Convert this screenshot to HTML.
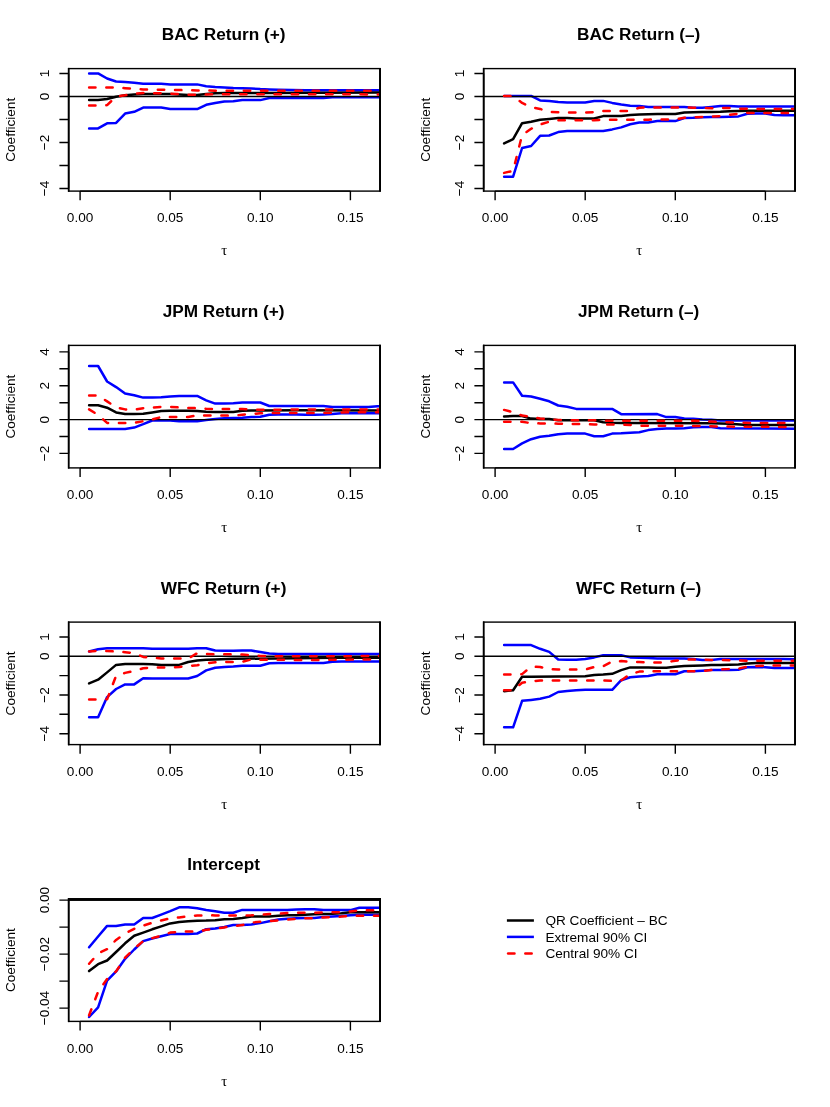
<!DOCTYPE html>
<html><head><meta charset="utf-8"><title>QR Coefficients</title>
<style>
html,body{margin:0;padding:0;background:#fff;}
body{width:830px;height:1107px;overflow:hidden;}
svg{display:block;will-change:transform;}
text{font-family:"Liberation Sans",sans-serif;fill:#000;}
.t{font-weight:bold;font-size:17.2px;text-anchor:middle;}
.a{font-size:13.6px;text-anchor:middle;}
.tau{font-family:"Liberation Serif",serif;font-size:15px;text-anchor:middle;}
.ax{stroke:#000;stroke-width:1.4;fill:none;stroke-linecap:square;}
.k{stroke:#000;stroke-width:2.5;fill:none;stroke-linejoin:round;stroke-linecap:round;}
.b{stroke:#0000ff;stroke-width:2.5;fill:none;stroke-linejoin:round;stroke-linecap:round;}
.r{stroke:#ff0000;stroke-width:2.5;fill:none;stroke-linejoin:round;stroke-linecap:round;stroke-dasharray:6.4 10.8;}
.l{font-size:13.6px;}
</style></head><body>
<svg width="830" height="1107" viewBox="0 0 830 1107">
<rect width="830" height="1107" fill="#fff"/>
<defs>
<clipPath id="c00"><rect x="68.6" y="68.6" width="311.4" height="122.5"/></clipPath>
<clipPath id="c01"><rect x="483.6" y="68.6" width="311.4" height="122.5"/></clipPath>
<clipPath id="c10"><rect x="68.6" y="345.4" width="311.4" height="122.5"/></clipPath>
<clipPath id="c11"><rect x="483.6" y="345.4" width="311.4" height="122.5"/></clipPath>
<clipPath id="c20"><rect x="68.6" y="622.1" width="311.4" height="122.5"/></clipPath>
<clipPath id="c21"><rect x="483.6" y="622.1" width="311.4" height="122.5"/></clipPath>
<clipPath id="c30"><rect x="68.6" y="898.9" width="311.4" height="122.5"/></clipPath>
</defs>
<g><!-- panel 0,0 -->
<text class="t" x="223.6" y="40.1">BAC Return (+)</text>
<g clip-path="url(#c00)">
<path class="b" d="M89.1 73.4 L98.1 73.4 L107.1 78.5 L116.1 81.5 L125.1 82.1 L134.2 82.7 L143.2 83.7 L161.2 83.7 L170.2 84.4 L197.2 84.4 L206.2 86.3 L215.2 87.0 L224.3 87.5 L233.3 88.1 L242.3 88.3 L251.3 88.5 L260.3 89.1 L269.3 89.5 L278.3 89.8 L305.4 90.2 L386.4 90.3"/>
<path class="b" d="M89.1 128.4 L98.1 128.4 L107.1 123.3 L116.1 122.9 L125.1 113.6 L134.2 111.8 L143.2 107.6 L161.2 107.6 L170.2 109.1 L197.2 109.1 L206.2 104.8 L215.2 103.0 L224.3 101.5 L233.3 101.2 L242.3 100.1 L260.3 100.1 L269.3 98.0 L323.4 98.0 L332.4 97.3 L386.4 97.3"/>
<path class="k" d="M89.1 99.9 L98.1 99.9 L107.1 99.0 L116.1 96.7 L125.1 95.3 L134.2 94.5 L143.2 94.0 L170.2 94.0 L179.2 94.5 L188.2 95.0 L197.2 95.0 L206.2 94.0 L215.2 93.3 L224.3 93.1 L260.3 92.9 L386.4 92.4"/>
<path class="ax" style="stroke-linecap:butt" d="M68.6 96.5 H380.0"/>
<path class="r" d="M89.1 87.4 L116.1 87.4 L125.1 88.2 L134.2 88.9 L143.2 89.4 L161.2 89.7 L170.2 89.9 L197.2 90.4 L215.2 90.7 L260.3 90.8 L386.4 90.6"/>
<path class="r" d="M89.1 105.4 L98.1 105.4 L107.1 105.1 L116.1 96.5 L125.1 95.3 L134.2 93.6 L143.2 93.1 L161.2 93.3 L170.2 93.6 L179.2 94.1 L188.2 94.8 L197.2 94.8 L206.2 94.5 L215.2 94.1 L224.3 94.2 L386.4 94.4"/>
</g>
<rect class="ax" x="68.6" y="68.6" width="311.4" height="122.5"/>
<path class="ax" style="stroke-width:1.9;stroke-linecap:butt" d="M380.05 67.9 V191.8"/>
<path class="ax" style="stroke-width:1.6;stroke-linecap:butt" d="M68.70 67.9 V191.8"/>
<path class="ax" style="stroke-linecap:butt" d="M80.1 191.1 H350.4M80.1 191.1 v9.1M170.2 191.1 v9.1M260.3 191.1 v9.1M350.4 191.1 v9.1M68.6 73.5 V188.5M68.6 73.5 h-9.2M68.6 96.5 h-9.2M68.6 119.5 h-9.2M68.6 142.5 h-9.2M68.6 165.5 h-9.2M68.6 188.5 h-9.2"/>
<text class="a" x="80.1" y="222.3">0.00</text>
<text class="a" x="170.2" y="222.3">0.05</text>
<text class="a" x="260.3" y="222.3">0.10</text>
<text class="a" x="350.4" y="222.3">0.15</text>
<text class="a" transform="translate(48.6 73.5) rotate(-90)">1</text>
<text class="a" transform="translate(48.6 96.5) rotate(-90)">0</text>
<text class="a" transform="translate(48.6 142.5) rotate(-90)">−2</text>
<text class="a" transform="translate(48.6 188.5) rotate(-90)">−4</text>
<text class="a" transform="translate(15.3 129.8) rotate(-90)">Coefficient</text>
<text class="tau" x="224.3" y="255.2">τ</text>
</g>
<g><!-- panel 0,1 -->
<text class="t" x="638.6" y="40.1">BAC Return (<tspan dy="0.7">–</tspan><tspan dy="-0.7">)</tspan></text>
<g clip-path="url(#c01)">
<path class="b" d="M504.1 95.9 L531.1 95.9 L540.1 100.4 L549.2 100.9 L558.2 102.1 L567.2 102.4 L585.2 102.4 L594.2 100.9 L603.2 100.9 L612.2 102.9 L621.2 104.6 L630.2 105.8 L639.3 105.9 L648.3 107.0 L684.3 107.0 L693.3 107.7 L702.3 107.7 L711.3 107.0 L720.4 106.1 L729.4 106.1 L738.4 106.6 L801.4 106.6"/>
<path class="b" d="M504.1 176.7 L513.1 176.7 L522.1 148.0 L531.1 146.0 L540.1 135.8 L549.2 135.5 L558.2 132.1 L567.2 131.1 L603.2 131.1 L612.2 129.4 L621.2 127.4 L630.2 124.3 L639.3 122.6 L648.3 122.4 L657.3 121.1 L666.3 120.7 L675.3 121.1 L684.3 118.0 L693.3 117.7 L702.3 117.2 L711.3 117.0 L720.4 116.9 L729.4 116.7 L738.4 116.4 L747.4 113.7 L756.4 113.5 L765.4 113.5 L774.4 115.1 L783.4 115.3 L801.4 115.3"/>
<path class="k" d="M504.1 143.4 L513.1 139.2 L522.1 123.2 L531.1 121.8 L540.1 119.8 L549.2 119.0 L558.2 118.1 L567.2 118.1 L576.2 118.5 L594.2 118.5 L603.2 116.1 L612.2 116.1 L621.2 115.9 L630.2 115.0 L639.3 114.4 L648.3 114.2 L657.3 114.0 L675.3 114.0 L684.3 112.4 L693.3 112.2 L702.3 112.0 L711.3 111.9 L720.4 111.8 L729.4 111.3 L738.4 111.0 L747.4 110.8 L801.4 110.7"/>
<path class="ax" style="stroke-linecap:butt" d="M483.6 96.5 H795.0"/>
<path class="r" d="M504.1 95.9 L513.1 96.2 L522.1 102.9 L531.1 107.2 L540.1 108.9 L549.2 111.9 L558.2 112.2 L567.2 112.6 L585.2 112.6 L594.2 112.2 L603.2 111.0 L630.2 111.0 L639.3 107.7 L648.3 107.4 L684.3 107.4 L693.3 107.7 L711.3 108.2 L729.4 108.0 L738.4 108.6 L747.4 108.8 L756.4 109.0 L801.4 109.0"/>
<path class="r" d="M504.1 172.9 L513.1 170.9 L522.1 135.0 L531.1 128.8 L540.1 124.5 L549.2 121.7 L558.2 120.2 L567.2 120.3 L594.2 120.3 L603.2 119.8 L648.3 119.7 L657.3 119.4 L675.3 119.4 L684.3 117.7 L693.3 117.3 L702.3 116.9 L711.3 116.7 L720.4 116.1 L729.4 114.8 L738.4 113.7 L747.4 112.9 L756.4 112.9 L765.4 113.1 L801.4 113.1"/>
</g>
<rect class="ax" x="483.6" y="68.6" width="311.4" height="122.5"/>
<path class="ax" style="stroke-width:1.9;stroke-linecap:butt" d="M795.05 67.9 V191.8"/>
<path class="ax" style="stroke-width:1.6;stroke-linecap:butt" d="M483.70 67.9 V191.8"/>
<path class="ax" style="stroke-linecap:butt" d="M495.1 191.1 H765.4M495.1 191.1 v9.1M585.2 191.1 v9.1M675.3 191.1 v9.1M765.4 191.1 v9.1M483.6 73.5 V188.5M483.6 73.5 h-9.2M483.6 96.5 h-9.2M483.6 119.5 h-9.2M483.6 142.5 h-9.2M483.6 165.5 h-9.2M483.6 188.5 h-9.2"/>
<text class="a" x="495.1" y="222.3">0.00</text>
<text class="a" x="585.2" y="222.3">0.05</text>
<text class="a" x="675.3" y="222.3">0.10</text>
<text class="a" x="765.4" y="222.3">0.15</text>
<text class="a" transform="translate(463.6 73.5) rotate(-90)">1</text>
<text class="a" transform="translate(463.6 96.5) rotate(-90)">0</text>
<text class="a" transform="translate(463.6 142.5) rotate(-90)">−2</text>
<text class="a" transform="translate(463.6 188.5) rotate(-90)">−4</text>
<text class="a" transform="translate(430.3 129.8) rotate(-90)">Coefficient</text>
<text class="tau" x="639.3" y="255.2">τ</text>
</g>
<g><!-- panel 1,0 -->
<text class="t" x="223.6" y="316.9">JPM Return (+)</text>
<g clip-path="url(#c10)">
<path class="b" d="M89.1 366.0 L98.1 366.0 L107.1 381.5 L116.1 387.1 L125.1 393.5 L134.2 395.2 L143.2 397.6 L152.2 397.6 L161.2 397.2 L170.2 396.4 L179.2 395.9 L197.2 395.9 L206.2 400.3 L215.2 403.6 L224.3 403.6 L233.3 403.2 L242.3 402.5 L260.3 402.5 L269.3 406.0 L323.4 406.0 L332.4 407.0 L368.4 407.0 L377.4 406.3 L386.4 406.0"/>
<path class="b" d="M89.1 428.9 L125.1 428.9 L134.2 427.6 L143.2 424.2 L152.2 420.5 L161.2 420.2 L170.2 420.5 L179.2 421.2 L197.2 421.2 L206.2 420.0 L215.2 419.1 L224.3 418.2 L233.3 418.0 L242.3 417.7 L251.3 417.1 L260.3 416.8 L269.3 414.7 L278.3 414.4 L296.3 414.4 L305.4 414.7 L314.4 414.7 L323.4 414.4 L332.4 413.9 L341.4 413.3 L386.4 413.3"/>
<path class="k" d="M89.1 405.3 L98.1 405.3 L107.1 407.7 L116.1 412.4 L125.1 414.1 L134.2 414.1 L143.2 413.8 L152.2 412.4 L161.2 411.1 L170.2 410.7 L188.2 410.7 L197.2 411.1 L206.2 411.7 L215.2 411.9 L233.3 411.9 L242.3 410.8 L251.3 410.6 L260.3 410.4 L296.3 410.3 L386.4 410.6"/>
<path class="ax" style="stroke-linecap:butt" d="M68.6 419.6 H380.0"/>
<path class="r" d="M89.1 395.5 L98.1 395.5 L107.1 401.4 L116.1 407.3 L125.1 409.4 L134.2 409.7 L143.2 408.2 L152.2 407.5 L161.2 407.0 L170.2 407.0 L188.2 407.9 L197.2 408.2 L206.2 408.7 L215.2 409.0 L242.3 409.0 L260.3 409.8 L269.3 409.8 L296.3 409.5 L386.4 409.5"/>
<path class="r" d="M89.1 409.4 L98.1 414.9 L107.1 422.9 L116.1 423.0 L125.1 423.0 L134.2 422.9 L143.2 421.2 L152.2 419.5 L161.2 417.1 L179.2 417.1 L188.2 417.0 L197.2 415.4 L215.2 415.4 L233.3 415.7 L242.3 414.7 L251.3 414.1 L260.3 413.3 L269.3 413.1 L278.3 413.0 L323.4 413.0 L350.4 412.3 L386.4 412.2"/>
</g>
<rect class="ax" x="68.6" y="345.4" width="311.4" height="122.5"/>
<path class="ax" style="stroke-width:1.9;stroke-linecap:butt" d="M380.05 344.7 V468.6"/>
<path class="ax" style="stroke-width:1.6;stroke-linecap:butt" d="M68.70 344.7 V468.6"/>
<path class="ax" style="stroke-linecap:butt" d="M80.1 467.9 H350.4M80.1 467.9 v9.1M170.2 467.9 v9.1M260.3 467.9 v9.1M350.4 467.9 v9.1M68.6 351.9 V453.4M68.6 351.9 h-9.2M68.6 368.8 h-9.2M68.6 385.8 h-9.2M68.6 402.7 h-9.2M68.6 419.6 h-9.2M68.6 436.5 h-9.2M68.6 453.4 h-9.2"/>
<text class="a" x="80.1" y="499.1">0.00</text>
<text class="a" x="170.2" y="499.1">0.05</text>
<text class="a" x="260.3" y="499.1">0.10</text>
<text class="a" x="350.4" y="499.1">0.15</text>
<text class="a" transform="translate(48.6 351.9) rotate(-90)">4</text>
<text class="a" transform="translate(48.6 385.8) rotate(-90)">2</text>
<text class="a" transform="translate(48.6 419.6) rotate(-90)">0</text>
<text class="a" transform="translate(48.6 453.4) rotate(-90)">−2</text>
<text class="a" transform="translate(15.3 406.6) rotate(-90)">Coefficient</text>
<text class="tau" x="224.3" y="532.0">τ</text>
</g>
<g><!-- panel 1,1 -->
<text class="t" x="638.6" y="316.9">JPM Return (<tspan dy="0.7">–</tspan><tspan dy="-0.7">)</tspan></text>
<g clip-path="url(#c11)">
<path class="b" d="M504.1 382.4 L513.1 382.4 L522.1 395.7 L531.1 396.5 L540.1 398.7 L549.2 401.3 L558.2 405.5 L567.2 406.7 L576.2 408.9 L612.2 408.9 L621.2 414.2 L657.3 414.1 L666.3 417.1 L675.3 417.1 L684.3 418.4 L693.3 418.7 L702.3 419.5 L711.3 419.8 L720.4 420.5 L801.4 420.6"/>
<path class="b" d="M504.1 449.0 L513.1 449.0 L522.1 443.4 L531.1 439.2 L540.1 436.7 L549.2 435.8 L558.2 434.2 L567.2 433.6 L585.2 433.6 L594.2 436.2 L603.2 436.2 L612.2 433.6 L621.2 433.3 L630.2 432.7 L639.3 432.3 L648.3 430.1 L657.3 429.1 L666.3 428.5 L675.3 428.4 L684.3 428.2 L693.3 427.3 L702.3 427.1 L711.3 427.1 L720.4 428.2 L765.4 428.4 L801.4 428.7"/>
<path class="k" d="M504.1 416.4 L513.1 416.1 L522.1 416.1 L531.1 418.6 L540.1 419.0 L549.2 419.0 L558.2 420.3 L594.2 420.3 L603.2 422.3 L612.2 422.7 L621.2 422.9 L630.2 423.0 L711.3 423.3 L729.4 423.8 L747.4 424.9 L801.4 424.9"/>
<path class="ax" style="stroke-linecap:butt" d="M483.6 419.6 H795.0"/>
<path class="r" d="M504.1 409.9 L513.1 412.2 L522.1 415.6 L531.1 416.9 L540.1 418.5 L549.2 419.3 L558.2 420.0 L567.2 420.2 L594.2 420.2 L603.2 420.7 L612.2 420.8 L693.3 420.8 L711.3 421.6 L738.4 422.8 L756.4 423.0 L801.4 423.0"/>
<path class="r" d="M504.1 421.8 L513.1 421.8 L522.1 421.7 L531.1 423.2 L540.1 423.4 L549.2 423.4 L558.2 423.7 L567.2 424.0 L585.2 424.1 L594.2 424.4 L612.2 424.5 L630.2 424.9 L639.3 425.7 L684.3 425.7 L693.3 426.0 L711.3 426.3 L729.4 426.6 L801.4 427.1"/>
</g>
<rect class="ax" x="483.6" y="345.4" width="311.4" height="122.5"/>
<path class="ax" style="stroke-width:1.9;stroke-linecap:butt" d="M795.05 344.7 V468.6"/>
<path class="ax" style="stroke-width:1.6;stroke-linecap:butt" d="M483.70 344.7 V468.6"/>
<path class="ax" style="stroke-linecap:butt" d="M495.1 467.9 H765.4M495.1 467.9 v9.1M585.2 467.9 v9.1M675.3 467.9 v9.1M765.4 467.9 v9.1M483.6 351.9 V453.4M483.6 351.9 h-9.2M483.6 368.8 h-9.2M483.6 385.8 h-9.2M483.6 402.7 h-9.2M483.6 419.6 h-9.2M483.6 436.5 h-9.2M483.6 453.4 h-9.2"/>
<text class="a" x="495.1" y="499.1">0.00</text>
<text class="a" x="585.2" y="499.1">0.05</text>
<text class="a" x="675.3" y="499.1">0.10</text>
<text class="a" x="765.4" y="499.1">0.15</text>
<text class="a" transform="translate(463.6 351.9) rotate(-90)">4</text>
<text class="a" transform="translate(463.6 385.8) rotate(-90)">2</text>
<text class="a" transform="translate(463.6 419.6) rotate(-90)">0</text>
<text class="a" transform="translate(463.6 453.4) rotate(-90)">−2</text>
<text class="a" transform="translate(430.3 406.6) rotate(-90)">Coefficient</text>
<text class="tau" x="639.3" y="532.0">τ</text>
</g>
<g><!-- panel 2,0 -->
<text class="t" x="223.6" y="593.6">WFC Return (+)</text>
<g clip-path="url(#c20)">
<path class="b" d="M89.1 651.5 L98.1 649.3 L107.1 648.2 L143.2 648.2 L152.2 648.8 L188.2 648.8 L197.2 648.2 L206.2 648.2 L215.2 650.5 L224.3 650.8 L233.3 650.8 L242.3 650.6 L251.3 650.6 L260.3 652.1 L269.3 653.6 L278.3 653.9 L287.3 654.1 L386.4 654.0"/>
<path class="b" d="M89.1 717.3 L98.1 717.3 L107.1 697.1 L116.1 689.0 L125.1 684.4 L134.2 684.4 L143.2 678.3 L152.2 678.5 L188.2 678.5 L197.2 676.0 L206.2 670.4 L215.2 667.8 L224.3 666.9 L233.3 666.6 L242.3 665.8 L260.3 665.8 L269.3 663.3 L278.3 663.1 L296.3 663.0 L323.4 663.0 L332.4 661.7 L341.4 661.5 L386.4 661.6"/>
<path class="k" d="M89.1 683.4 L98.1 679.7 L107.1 672.4 L116.1 664.9 L125.1 664.0 L143.2 664.0 L152.2 664.2 L161.2 664.9 L179.2 664.9 L188.2 662.0 L197.2 660.6 L206.2 659.8 L215.2 659.4 L233.3 658.8 L296.3 658.3 L332.4 657.7 L386.4 657.7"/>
<path class="ax" style="stroke-linecap:butt" d="M68.6 656.3 H380.0"/>
<path class="r" d="M89.1 651.5 L98.1 650.7 L107.1 651.0 L116.1 651.5 L125.1 652.2 L134.2 653.1 L143.2 656.9 L152.2 657.8 L161.2 658.4 L170.2 658.6 L188.2 658.6 L197.2 653.2 L206.2 653.9 L215.2 654.2 L233.3 654.4 L242.3 654.6 L251.3 655.4 L260.3 655.9 L269.3 656.3 L332.4 656.3 L386.4 655.9"/>
<path class="r" d="M89.1 699.6 L98.1 699.6 L107.1 699.3 L116.1 675.8 L125.1 672.9 L134.2 670.9 L143.2 668.2 L152.2 667.6 L170.2 667.4 L179.2 667.0 L188.2 666.0 L197.2 665.2 L206.2 663.3 L215.2 662.3 L224.3 662.0 L233.3 662.0 L242.3 661.7 L251.3 659.5 L260.3 659.7 L269.3 659.8 L323.4 660.0 L332.4 659.7 L386.4 659.5"/>
</g>
<rect class="ax" x="68.6" y="622.1" width="311.4" height="122.5"/>
<path class="ax" style="stroke-width:1.9;stroke-linecap:butt" d="M380.05 621.4 V745.3"/>
<path class="ax" style="stroke-width:1.6;stroke-linecap:butt" d="M68.70 621.4 V745.3"/>
<path class="ax" style="stroke-linecap:butt" d="M80.1 744.6 H350.4M80.1 744.6 v9.1M170.2 744.6 v9.1M260.3 744.6 v9.1M350.4 744.6 v9.1M68.6 637.0 V733.7M68.6 637.0 h-9.2M68.6 656.3 h-9.2M68.6 675.6 h-9.2M68.6 695.0 h-9.2M68.6 714.3 h-9.2M68.6 733.7 h-9.2"/>
<text class="a" x="80.1" y="775.8">0.00</text>
<text class="a" x="170.2" y="775.8">0.05</text>
<text class="a" x="260.3" y="775.8">0.10</text>
<text class="a" x="350.4" y="775.8">0.15</text>
<text class="a" transform="translate(48.6 637.0) rotate(-90)">1</text>
<text class="a" transform="translate(48.6 656.3) rotate(-90)">0</text>
<text class="a" transform="translate(48.6 695.0) rotate(-90)">−2</text>
<text class="a" transform="translate(48.6 733.7) rotate(-90)">−4</text>
<text class="a" transform="translate(15.3 683.4) rotate(-90)">Coefficient</text>
<text class="tau" x="224.3" y="808.7">τ</text>
</g>
<g><!-- panel 2,1 -->
<text class="t" x="638.6" y="593.6">WFC Return (<tspan dy="0.7">–</tspan><tspan dy="-0.7">)</tspan></text>
<g clip-path="url(#c21)">
<path class="b" d="M504.1 645.1 L531.1 645.1 L540.1 648.8 L549.2 651.9 L558.2 659.5 L567.2 659.8 L576.2 659.8 L585.2 659.1 L594.2 657.4 L603.2 655.2 L621.2 655.2 L630.2 657.4 L639.3 657.8 L648.3 658.0 L657.3 658.6 L684.3 658.6 L693.3 658.9 L702.3 660.0 L711.3 660.0 L720.4 659.1 L783.4 659.1 L801.4 659.4"/>
<path class="b" d="M504.1 727.3 L513.1 727.3 L522.1 700.8 L531.1 699.9 L540.1 698.8 L549.2 696.6 L558.2 692.0 L567.2 691.0 L576.2 690.3 L585.2 689.8 L612.2 689.8 L621.2 680.2 L630.2 677.2 L639.3 676.4 L648.3 676.1 L657.3 674.3 L666.3 674.1 L675.3 674.3 L684.3 671.3 L693.3 671.3 L702.3 670.7 L711.3 670.1 L720.4 669.9 L729.4 670.1 L738.4 669.7 L747.4 667.2 L756.4 667.0 L765.4 667.2 L774.4 668.1 L801.4 668.1"/>
<path class="k" d="M504.1 691.2 L513.1 690.3 L522.1 676.7 L531.1 676.7 L585.2 676.3 L594.2 675.1 L603.2 674.6 L612.2 673.8 L621.2 670.1 L630.2 667.4 L639.3 667.4 L648.3 667.6 L657.3 667.8 L666.3 667.8 L675.3 666.7 L684.3 666.1 L693.3 665.8 L702.3 665.4 L711.3 665.0 L720.4 665.0 L729.4 664.8 L738.4 664.5 L747.4 663.4 L756.4 663.1 L801.4 663.1"/>
<path class="ax" style="stroke-linecap:butt" d="M483.6 656.3 H795.0"/>
<path class="r" d="M504.1 674.6 L513.1 674.6 L522.1 674.1 L531.1 666.7 L540.1 667.0 L549.2 669.2 L558.2 669.6 L585.2 669.6 L594.2 667.0 L603.2 666.2 L612.2 661.5 L621.2 661.1 L630.2 661.9 L639.3 662.1 L648.3 662.3 L657.3 662.6 L666.3 662.3 L675.3 660.7 L684.3 659.6 L702.3 659.6 L711.3 659.9 L729.4 660.2 L747.4 660.7 L801.4 660.7"/>
<path class="r" d="M504.1 690.3 L513.1 690.3 L522.1 682.7 L531.1 681.4 L540.1 680.5 L603.2 680.5 L612.2 680.9 L621.2 680.5 L630.2 674.0 L639.3 671.6 L648.3 671.3 L684.3 671.3 L693.3 671.2 L702.3 671.0 L711.3 669.9 L720.4 669.4 L729.4 669.1 L738.4 668.6 L747.4 666.7 L756.4 665.9 L765.4 665.6 L801.4 665.6"/>
</g>
<rect class="ax" x="483.6" y="622.1" width="311.4" height="122.5"/>
<path class="ax" style="stroke-width:1.9;stroke-linecap:butt" d="M795.05 621.4 V745.3"/>
<path class="ax" style="stroke-width:1.6;stroke-linecap:butt" d="M483.70 621.4 V745.3"/>
<path class="ax" style="stroke-linecap:butt" d="M495.1 744.6 H765.4M495.1 744.6 v9.1M585.2 744.6 v9.1M675.3 744.6 v9.1M765.4 744.6 v9.1M483.6 637.0 V733.7M483.6 637.0 h-9.2M483.6 656.3 h-9.2M483.6 675.6 h-9.2M483.6 695.0 h-9.2M483.6 714.3 h-9.2M483.6 733.7 h-9.2"/>
<text class="a" x="495.1" y="775.8">0.00</text>
<text class="a" x="585.2" y="775.8">0.05</text>
<text class="a" x="675.3" y="775.8">0.10</text>
<text class="a" x="765.4" y="775.8">0.15</text>
<text class="a" transform="translate(463.6 637.0) rotate(-90)">1</text>
<text class="a" transform="translate(463.6 656.3) rotate(-90)">0</text>
<text class="a" transform="translate(463.6 695.0) rotate(-90)">−2</text>
<text class="a" transform="translate(463.6 733.7) rotate(-90)">−4</text>
<text class="a" transform="translate(430.3 683.4) rotate(-90)">Coefficient</text>
<text class="tau" x="639.3" y="808.7">τ</text>
</g>
<g><!-- panel 3,0 -->
<text class="t" x="223.6" y="870.4">Intercept</text>
<g clip-path="url(#c30)">
<path class="b" d="M89.1 947.3 L98.1 936.5 L107.1 925.9 L116.1 925.9 L125.1 924.5 L134.2 924.5 L143.2 918.0 L152.2 918.0 L161.2 914.6 L170.2 911.2 L179.2 907.3 L188.2 907.3 L197.2 908.2 L206.2 909.9 L215.2 911.2 L224.3 912.8 L233.3 912.8 L242.3 909.9 L251.3 910.1 L287.3 910.1 L296.3 909.6 L305.4 909.2 L314.4 909.2 L323.4 910.1 L350.4 910.1 L359.4 907.7 L386.4 907.7"/>
<path class="b" d="M89.1 1017.0 L98.1 1007.4 L107.1 980.7 L116.1 971.4 L125.1 958.8 L134.2 949.5 L143.2 941.1 L152.2 938.5 L161.2 936.3 L170.2 934.0 L188.2 934.0 L197.2 933.5 L206.2 929.2 L215.2 928.5 L224.3 926.9 L233.3 925.1 L242.3 925.1 L251.3 924.4 L260.3 923.1 L269.3 921.2 L278.3 919.6 L287.3 918.8 L296.3 918.3 L305.4 918.0 L314.4 918.0 L323.4 917.1 L332.4 916.6 L341.4 916.1 L350.4 915.3 L359.4 914.7 L386.4 914.7"/>
<path class="k" d="M89.1 971.1 L98.1 964.2 L107.1 960.5 L116.1 952.0 L125.1 943.3 L134.2 935.7 L143.2 932.6 L152.2 929.3 L161.2 926.4 L170.2 923.4 L179.2 922.0 L188.2 921.2 L197.2 920.7 L206.2 920.6 L215.2 920.3 L224.3 919.3 L233.3 919.1 L242.3 918.0 L251.3 916.6 L260.3 916.4 L269.3 916.4 L278.3 915.8 L287.3 915.3 L296.3 915.2 L305.4 914.7 L314.4 914.2 L323.4 913.9 L332.4 913.7 L341.4 913.3 L350.4 912.3 L359.4 912.2 L386.4 912.2"/>
<path class="ax" style="stroke-linecap:butt" d="M68.6 900.1 H380.0"/>
<path class="r" d="M89.1 963.8 L98.1 953.4 L107.1 949.2 L116.1 939.9 L125.1 933.5 L134.2 928.8 L143.2 925.6 L152.2 922.7 L161.2 920.5 L170.2 918.3 L179.2 917.5 L188.2 916.3 L197.2 915.5 L206.2 915.3 L215.2 915.4 L242.3 915.5 L251.3 915.3 L260.3 914.7 L269.3 914.1 L278.3 913.6 L287.3 913.0 L296.3 912.8 L323.4 912.6 L332.4 912.3 L341.4 912.3 L350.4 911.4 L359.4 910.4 L368.4 910.2 L386.4 910.2"/>
<path class="r" d="M89.1 1015.3 L98.1 991.7 L107.1 979.0 L116.1 971.4 L125.1 957.6 L134.2 948.7 L143.2 941.1 L152.2 938.2 L161.2 935.7 L170.2 932.6 L179.2 931.8 L188.2 931.5 L197.2 931.5 L206.2 929.8 L215.2 928.6 L224.3 927.4 L233.3 926.1 L242.3 925.1 L251.3 922.6 L260.3 921.8 L269.3 921.2 L278.3 920.3 L287.3 919.5 L296.3 919.0 L305.4 918.3 L314.4 918.2 L323.4 917.5 L332.4 917.1 L341.4 916.6 L350.4 915.7 L359.4 915.8 L386.4 915.8"/>
</g>
<rect x="67.9" y="898.1" width="312.8" height="2.7" fill="#000"/>
<rect class="ax" x="68.6" y="898.9" width="311.4" height="122.5"/>
<path class="ax" style="stroke-width:1.9;stroke-linecap:butt" d="M380.05 898.1 V1022.1"/>
<path class="ax" style="stroke-width:1.6;stroke-linecap:butt" d="M68.70 898.1 V1022.1"/>
<path class="ax" style="stroke-linecap:butt" d="M80.1 1021.4 H350.4M80.1 1021.4 v9.1M170.2 1021.4 v9.1M260.3 1021.4 v9.1M350.4 1021.4 v9.1M68.6 900.1 V1008.1M68.6 900.1 h-9.2M68.6 927.1 h-9.2M68.6 954.1 h-9.2M68.6 981.1 h-9.2M68.6 1008.1 h-9.2"/>
<text class="a" x="80.1" y="1052.5">0.00</text>
<text class="a" x="170.2" y="1052.5">0.05</text>
<text class="a" x="260.3" y="1052.5">0.10</text>
<text class="a" x="350.4" y="1052.5">0.15</text>
<text class="a" transform="translate(48.6 900.1) rotate(-90)">0.00</text>
<text class="a" transform="translate(48.6 954.1) rotate(-90)">−0.02</text>
<text class="a" transform="translate(48.6 1008.1) rotate(-90)">−0.04</text>
<text class="a" transform="translate(15.3 960.1) rotate(-90)">Coefficient</text>
<text class="tau" x="224.3" y="1085.5">τ</text>
</g>
<g><!-- legend -->
<path class="k" style="stroke-linecap:butt" d="M506.9 920.5 H533.9"/>
<path class="b" style="stroke-linecap:butt" d="M506.9 936.9 H533.9"/>
<path class="r" d="M508.1 953.5 H533.9"/>
<text class="l" x="545.4" y="925.1">QR Coefficient – BC</text>
<text class="l" x="545.4" y="941.5">Extremal 90% CI</text>
<text class="l" x="545.4" y="958.1">Central 90% CI</text>
</g>
</svg>
</body></html>
